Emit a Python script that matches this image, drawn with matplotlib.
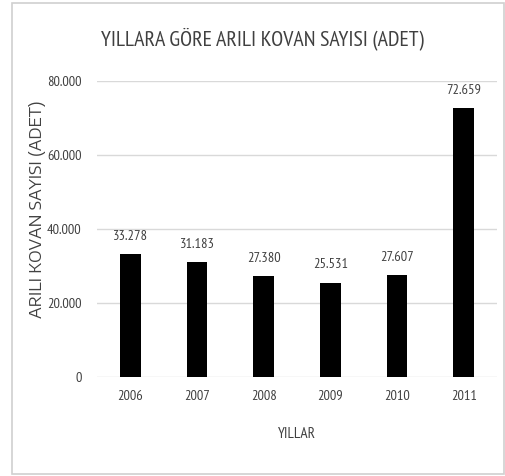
import matplotlib
matplotlib.use("Agg")
import matplotlib.pyplot as plt
from matplotlib.patches import Rectangle
from matplotlib import font_manager as fm

years = ["2006", "2007", "2008", "2009", "2010", "2011"]
values = [33278, 31183, 27380, 25531, 27607, 72659]
value_labels = ["33.278", "31.183", "27.380", "25.531", "27.607", "72.659"]
yticks = [0, 20000, 40000, 60000, 80000]
ytick_labels = ["0", "20.000", "40.000", "60.000", "80.000"]

available = {f.name for f in fm.fontManager.ttflist}


def pick(cands):
    for c in cands:
        if c in available:
            return c
    return "DejaVu Sans"


narrow = pick(["PT Sans Narrow", "Fira Sans Condensed", "Roboto Condensed",
               "Carlito", "DejaVu Sans"])
NW = "normal"
wide = pick(["Encode Sans Semi Expanded", "Encode Sans Expanded", "DejaVu Sans"])
TXT = "#404040"

W, H = 506, 476
fig = plt.figure(figsize=(W / 100, H / 100), dpi=100)

fig.patches.append(Rectangle((12 / W, 2 / H), (W - 14) / W, (H - 5) / H,
                             transform=fig.transFigure, fill=False,
                             edgecolor="#d0d0d0", linewidth=1.2))

ax = fig.add_axes([97 / W, 1 - 377 / H, 400 / W, 296 / H])
ax.bar(range(len(years)), values, width=0.31, color="black", zorder=3)
ax.set_xlim(-0.5, len(years) - 0.5)
ax.set_ylim(0, 80000)
ax.set_yticks(yticks)
ax.set_yticklabels(ytick_labels, family=narrow, weight=NW, fontsize=10.5, color=TXT)
ax.set_xticks(range(len(years)))
ax.set_xticklabels(years, family=narrow, weight=NW, fontsize=10.5, color=TXT)
ax.tick_params(length=0, pad=9)
ax.tick_params(axis="y", pad=11)
ax.yaxis.grid(True, color="#d9d9d9", linewidth=1, zorder=0)
for s in ax.spines.values():
    s.set_visible(False)

labels = []
for i, (v, lab) in enumerate(zip(values, value_labels)):
    labels.append(ax.annotate(lab, (i, v), xytext=(0, 8), textcoords="offset points",
                              ha="center", va="bottom", family=narrow, weight=NW,
                              fontsize=10.5, color=TXT))

xl = fig.text(297 / W, 1 - 434 / H, "YILLAR", family=narrow, weight=NW,
              fontsize=11, color=TXT, ha="center", va="center")

title = fig.text(262 / W, 1 - 39 / H, "YILLARA GÖRE ARILI KOVAN SAYISI (ADET)",
                 family=narrow, weight=NW, fontsize=15.5, color=TXT,
                 ha="center", va="center")
ylab = fig.text(38 / W, 1 - 209 / H, "ARILI KOVAN SAYISI (ADET)", rotation=90,
                family=wide, fontsize=10.5, color=TXT, ha="center", va="center")

renderer = fig.canvas.get_renderer()


def fit(t, target, horiz=True):
    for _ in range(4):
        bb = t.get_window_extent(renderer)
        cur = bb.width if horiz else bb.height
        t.set_fontsize(t.get_fontsize() * target / cur)


fit(title, 323)
fit(ylab, 218, horiz=False)
fit(xl, 38)
probe = fig.text(0, 0, "80.000", family=narrow, weight=NW, fontsize=10)
fit(probe, 35)
fs = probe.get_fontsize()
probe.remove()
for t in ax.get_yticklabels() + ax.get_xticklabels() + labels:
    t.set_fontsize(fs)

fig.savefig("out.png", dpi=100)
